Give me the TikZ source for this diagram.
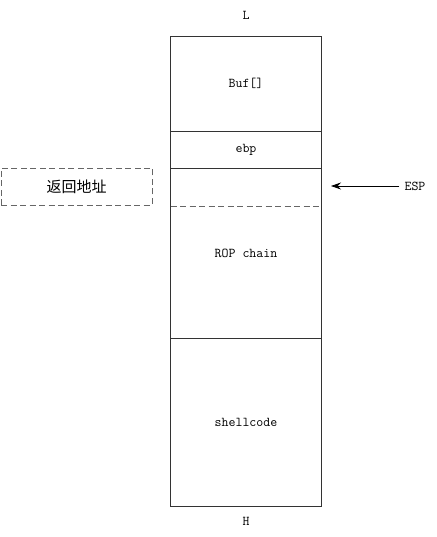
\documentclass[tikz,border=0pt]{standalone}
\usepackage{fontspec}
\newfontfamily\cjk{Noto Sans CJK SC}
\usetikzlibrary{arrows.meta}
\begin{document}
\begin{tikzpicture}[x=1pt,y=-1pt,
  cell/.style={draw=none,minimum width=151pt,inner sep=0pt,outer sep=0pt},
  lbl/.style={font=\ttfamily\fontsize{13.5}{16}\selectfont,inner sep=0pt},
  edge/.style={draw=black!80,line width=0.9pt},
  dashededge/.style={draw=black!60,line width=0.9pt,dash pattern=on 6pt off 3.5pt}]
\useasboundingbox (0,0) rectangle (436,537);
\node[cell,minimum height=94.5pt] (buf) at (246,83.75) {};
\node[cell,minimum height=37pt] (ebp) at (246,149.5) {};
\node[cell,minimum height=38pt] (ret) at (246,187) {};
\node[cell,minimum height=132pt] (rop) at (246,272) {};
\node[cell,minimum height=168pt] (shell) at (246,422) {};
\draw[edge] (buf.north west) rectangle (shell.south east);
\draw[edge] (buf.south west) -- (buf.south east);
\draw[edge] (ebp.south west) -- (ebp.south east);
\draw[dashededge] (ret.south west) -- (ret.south east);
\draw[edge] (rop.south west) -- (rop.south east);
\node[lbl] (tbuf) at (buf.center) {Buf[]};
\node[lbl] (tebp) at (ebp.center) {ebp};
\node[lbl] (trop) at (246,253) {ROP chain};
\node[lbl] (tshell) at (shell.center) {shellcode};
\node[lbl] (L) at (246,15) {L};
\node[lbl] (H) at (246,521) {H};
\node[draw=black!60,line width=0.9pt,dash pattern=on 6pt off 3.5pt,minimum width=151pt,minimum height=37pt,inner sep=0pt,font=\cjk\fontsize{15}{18}\selectfont] (addr) at (76.5,186.5) {返回地址};
\node[lbl] (esp) at (415,186) {ESP};
\draw[-{Stealth[length=10pt,width=7pt]},line width=0.8pt] (esp.west) ++(-5,0) coordinate (espstart) -- (331,186) coordinate (espend);
\end{tikzpicture}
\end{document}
